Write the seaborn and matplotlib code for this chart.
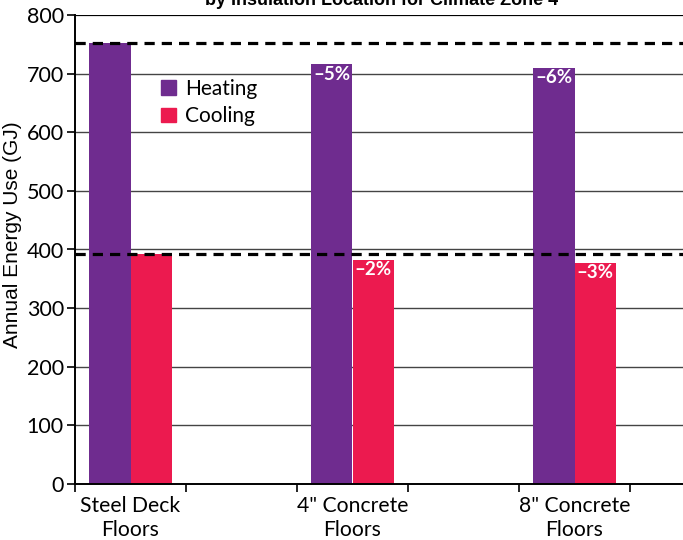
import matplotlib
matplotlib.use("Agg")
import matplotlib.pyplot as plt
import seaborn as sns
import pandas as pd

# Annual energy use (GJ) by floor construction
floors = ['Steel Deck\nFloors', '4" Concrete\nFloors', '8" Concrete\nFloors']
heating = [753, 716, 710]
cooling = [392, 382, 377]
heating_pct = [None, "\u20135%", "\u20136%"]
cooling_pct = [None, "\u20132%", "\u20133%"]
loads = ["Heating", "Cooling"]
colors = ["#6F2C8F", "#EC1A4F"]
y_ticks = [0, 100, 200, 300, 400, 500, 600, 700, 800]
title = "by Insulation Location for Climate Zone 4"
y_label = "Annual Energy Use (GJ)"

df = pd.DataFrame({
    "floor": floors * 2,
    "load": [loads[0]] * 3 + [loads[1]] * 3,
    "energy": heating + cooling,
})

# three data slots interleaved with empty spacer slots
order = [floors[0], " ", floors[1], "  ", floors[2], "   "]

sns.set_theme(style="white")
plt.rcParams["font.family"] = ["Lato", "DejaVu Sans"]
plt.rcParams["text.color"] = "black"
plt.rcParams["xtick.color"] = "black"
plt.rcParams["ytick.color"] = "black"
plt.rcParams["axes.labelcolor"] = "black"

fig = plt.figure(figsize=(6.83, 5.40), dpi=100)
ax = fig.add_axes([75 / 683, 56 / 540, 666 / 683, 469 / 540])

sns.barplot(data=df, x="floor", y="energy", hue="load", order=order,
            hue_order=loads, palette=colors, width=0.74, saturation=1,
            ax=ax, legend=False, zorder=2, linewidth=0)

ax.set_xlim(-0.5, 5.5)
ax.set_ylim(0, 800)
ax.set_yticks(y_ticks)
ax.set_yticklabels([str(v) for v in y_ticks], fontsize=15.5, color="black")

# tick marks at slot boundaries, labels at slot centres
ax.set_xticks([i - 0.5 for i in range(7)])
ax.set_xticklabels([])
ax.set_xticks([0, 2, 4], minor=True)
ax.set_xticklabels(floors, minor=True, fontsize=15.2, color="black",
                   linespacing=1.2)
ax.tick_params(axis="x", which="major", direction="out", length=6, width=1.2,
               color="black", bottom=True)
ax.tick_params(axis="x", which="minor", length=0, pad=9)
ax.tick_params(axis="y", direction="out", length=6, width=1.2, color="black",
               left=True, pad=2)
ax.set_xlabel("")
ax.set_ylabel(y_label, fontsize=15, family=["Liberation Sans", "DejaVu Sans"],
              color="black")
ax.yaxis.set_label_coords(-53 / 666, 249 / 469)

# horizontal grid behind bars
for v in y_ticks[1:-1]:
    ax.axhline(v, color="#444444", lw=1.0, zorder=1)
ax.axhline(800, color="black", lw=1.6, zorder=1)

for side in ["right", "top"]:
    ax.spines[side].set_visible(False)
ax.spines["left"].set_color("black")
ax.spines["left"].set_linewidth(1.4)
ax.spines["bottom"].set_color("black")
ax.spines["bottom"].set_linewidth(1.4)

# baseline reference lines from the steel deck values
for v in (heating[0], cooling[0]):
    ax.axhline(v, color="black", lw=2.3, dashes=(3.2, 2.2), zorder=4)

# percentage change labels inside bar tops
bar_w = 0.37
for i, pos in enumerate([0, 2, 4]):
    if heating_pct[i]:
        ax.annotate(heating_pct[i], (pos - bar_w / 2, heating[i]),
                    xytext=(0, -1), textcoords="offset points",
                    ha="center", va="top", color="white", fontsize=13.5,
                    fontweight="bold", zorder=5)
    if cooling_pct[i]:
        ax.annotate(cooling_pct[i], (pos + bar_w / 2, cooling[i]),
                    xytext=(0, -1), textcoords="offset points",
                    ha="center", va="top", color="white", fontsize=13.5,
                    fontweight="bold", zorder=5)

# legend
handles = [plt.Rectangle((0, 0), 1, 1, color=c) for c in colors]
leg = ax.legend(handles, loads, loc="upper left",
                bbox_to_anchor=(86 / 666, 1 - 64 / 469), frameon=False,
                fontsize=15, handlelength=0.72, handleheight=0.72,
                handletextpad=0.45, labelspacing=0.35, borderaxespad=0,
                borderpad=0)

fig.text(382 / 683, 1 - 5 / 540, title, ha="center", va="baseline",
         fontsize=13, fontweight="bold",
         family=["Liberation Sans", "DejaVu Sans"])

fig.savefig("out.png", dpi=100)
